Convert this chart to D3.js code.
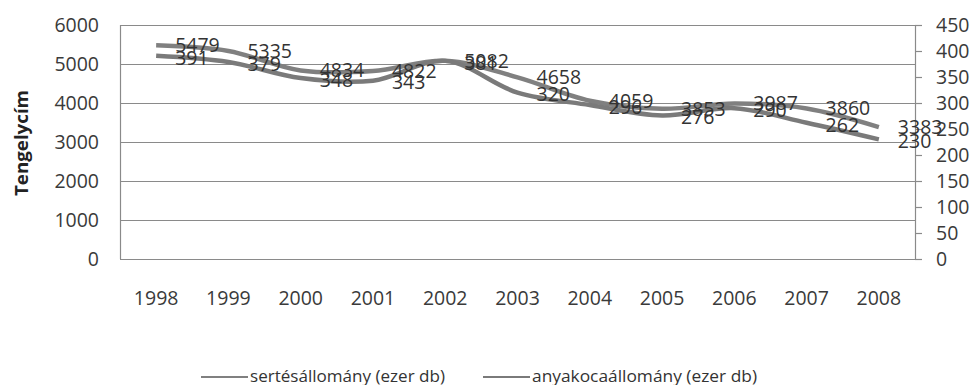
<!DOCTYPE html>
<html><head><meta charset="utf-8">
<script src="https://cdn.jsdelivr.net/npm/d3@7"></script>
<style>body{margin:0;background:#fff}svg{display:block}text{font-family:"Open Sans",sans-serif}</style>
</head><body>
<svg id="c" width="975" height="385"></svg>
<script>
const years = ["1998","1999","2000","2001","2002","2003","2004","2005","2006","2007","2008"];
const sertes = [5479,5335,4834,4822,5082,4658,4059,3853,3987,3860,3383];
const anyakoca = [391,379,348,343,381,320,296,276,290,262,230];
const leftTicks = [0,1000,2000,3000,4000,5000,6000];
const rightTicks = [0,50,100,150,200,250,300,350,400,450];
const seriesNames = ["sertésállomány (ezer db)","anyakocaállomány (ezer db)"];
const axisTitle = "Tengelycím";

const svg = d3.select("#c");
const L=120, R=915, T=25, B=259;
const x = d3.scaleBand().domain(years).range([L,R]);
const cx = d => x(d)+x.bandwidth()/2;
const yL = d3.scaleLinear().domain([0,6000]).range([B,T]);
const yR = d3.scaleLinear().domain([0,450]).range([B,T]);
const txt = "#3a3a3a", grid="#8a8a8a";
const fs = 19.5;

svg.append("g").selectAll("line").data(leftTicks).join("line")
  .attr("x1",L).attr("x2",R).attr("y1",d=>yL(d)+0.5).attr("y2",d=>yL(d)+0.5)
  .attr("stroke",grid).attr("stroke-width",1.2);
svg.append("line").attr("x1",L+0.5).attr("x2",L+0.5).attr("y1",T).attr("y2",B).attr("stroke",grid).attr("stroke-width",1.2);
svg.append("line").attr("x1",R+0.5).attr("x2",R+0.5).attr("y1",T).attr("y2",B).attr("stroke",grid).attr("stroke-width",1.2);

svg.append("g").selectAll("text").data(leftTicks).join("text")
  .attr("x",99).attr("y",d=>yL(d)).attr("dy","0.35em").attr("text-anchor","end")
  .attr("font-size",fs).attr("fill",txt).text(d=>d);
svg.append("g").selectAll("line").data(rightTicks).join("line")
  .attr("x1",R).attr("x2",R+7).attr("y1",d=>yR(d)+0.5).attr("y2",d=>yR(d)+0.5)
  .attr("stroke",grid).attr("stroke-width",1.2);
svg.append("g").selectAll("text").data(rightTicks).join("text")
  .attr("x",936).attr("y",d=>yR(d)).attr("dy","0.35em").attr("text-anchor","start")
  .attr("font-size",fs).attr("fill",txt).text(d=>d);
svg.append("g").selectAll("text").data(years).join("text")
  .attr("x",d=>cx(d)).attr("y",298).attr("dy","0.35em").attr("text-anchor","middle")
  .attr("font-size",fs).attr("fill",txt).text(d=>d);

svg.append("text").attr("transform","translate(22,143) rotate(-90)")
  .attr("text-anchor","middle").attr("dy","0.35em").attr("font-size",17).attr("font-weight","bold")
  .attr("textLength",106).attr("lengthAdjust","spacingAndGlyphs")
  .attr("fill","#222").text(axisTitle);

const lineL = d3.line().x((d,i)=>cx(years[i])).y(d=>yL(d)).curve(d3.curveCatmullRom.alpha(0.5));
const lineR = d3.line().x((d,i)=>cx(years[i])).y(d=>yR(d)).curve(d3.curveCatmullRom.alpha(0.5));
svg.append("path").attr("d",lineL(sertes)).attr("fill","none").attr("stroke","#808080").attr("stroke-width",4.5);
svg.append("path").attr("d",lineR(anyakoca)).attr("fill","none").attr("stroke","#7a7a7a").attr("stroke-width",4.5);

svg.append("g").selectAll("text").data(sertes).join("text")
  .attr("x",(d,i)=>cx(years[i])+19).attr("y",d=>yL(d)).attr("dy","0.35em")
  .attr("font-size",fs).attr("fill","#333").text(d=>d);
svg.append("g").selectAll("text").data(anyakoca).join("text")
  .attr("x",(d,i)=>cx(years[i])+19).attr("y",d=>yR(d)+2).attr("dy","0.35em")
  .attr("font-size",fs).attr("fill","#333").text(d=>d);

const leg = [{x1:201,x2:248,tx:250,w:195,name:seriesNames[0],c:"#808080"},{x1:483,x2:530,tx:532,w:225,name:seriesNames[1],c:"#7a7a7a"}];
leg.forEach(l=>{
  svg.append("line").attr("x1",l.x1).attr("x2",l.x2).attr("y1",377).attr("y2",377).attr("stroke",l.c).attr("stroke-width",2);
  svg.append("text").attr("x",l.tx).attr("y",377).attr("dy","0.35em").attr("font-size",15.5)
    .attr("textLength",l.w).attr("lengthAdjust","spacingAndGlyphs").attr("fill","#333").text(l.name);
});
</script>
</body></html>
